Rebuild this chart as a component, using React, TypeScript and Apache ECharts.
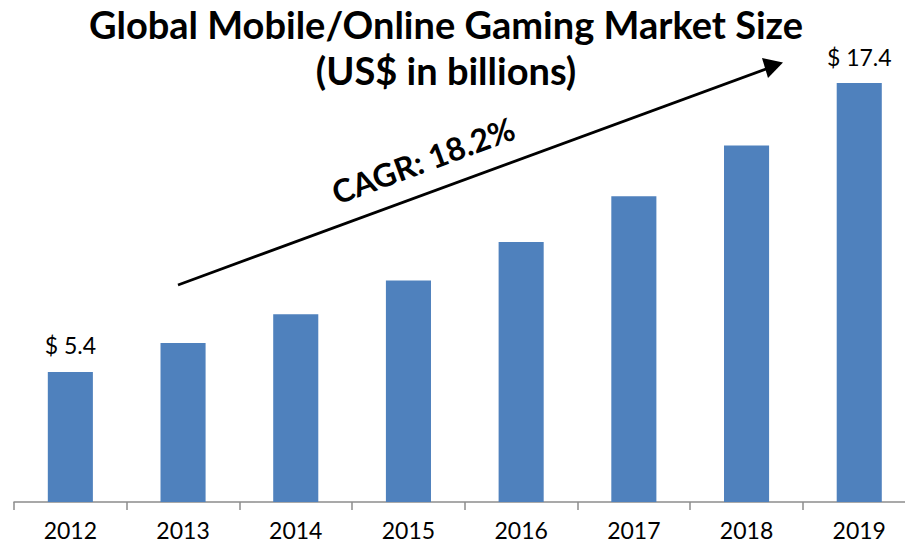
import React, { useEffect, useRef } from "react";
import * as echarts from "echarts";

const categories = ["2012", "2013", "2014", "2015", "2016", "2017", "2018", "2019"];
const values = [5.4, 6.6, 7.8, 9.2, 10.8, 12.7, 14.8, 17.4];
const labeledIndexes = [0, 7];
const titleLine1 = "Global Mobile/Online Gaming Market Size";
const titleLine2 = "(US$ in billions)";
const cagrText = "CAGR: 18.2%";

export default function App() {
  const ref = useRef<HTMLDivElement>(null);
  useEffect(() => {
    if (!ref.current) return;
    const chart = echarts.init(ref.current, null, { renderer: "svg" });
    const font = "Lato, 'Open Sans', sans-serif";
    chart.setOption({
      animation: false,
      grid: { left: 14, right: 14.4, top: 20.4, bottom: 44, containLabel: false },
      xAxis: {
        type: "category",
        data: categories,
        axisLine: { lineStyle: { color: "#8c8c8c", width: 1.5 } },
        axisTick: { show: true, length: 8, lineStyle: { color: "#8c8c8c", width: 1.5 } },
        axisLabel: { color: "#000", fontSize: 23, fontFamily: font, margin: 16 },
      },
      yAxis: {
        type: "value",
        min: 0,
        max: 20,
        show: false,
        splitLine: { show: false },
      },
      series: [
        {
          type: "bar",
          barWidth: "40%",
          itemStyle: { color: "#4F81BD" },
          data: values.map((v, i) => ({
            value: v,
            label: {
              show: labeledIndexes.includes(i),
              position: "top",
              distance: 15,
              formatter: "$ {c}",
              color: "#000",
              fontSize: 23,
              fontFamily: font,
            },
          })),
        },
      ],
      graphic: [
        {
          type: "text",
          x: 446,
          y: 24,
          style: {
            text: titleLine1,
            fill: "#000",
            font: `bold 38px ${font}`,
            textAlign: "center",
            textVerticalAlign: "middle",
          },
        },
        {
          type: "text",
          x: 446,
          y: 70,
          style: {
            text: titleLine2,
            fill: "#000",
            font: `bold 38px ${font}`,
            textAlign: "center",
            textVerticalAlign: "middle",
          },
        },
        {
          type: "line",
          shape: { x1: 178, y1: 285, x2: 770, y2: 67.5 },
          style: { stroke: "#000", lineWidth: 2.8 },
        },
        {
          type: "polygon",
          shape: { points: [[783, 62.5], [762, 58], [768, 78]] },
          style: { fill: "#000" },
        },
        {
          type: "text",
          x: 423,
          y: 160,
          rotation: (20.3 * Math.PI) / 180,
          style: {
            text: cagrText,
            fill: "#000",
            font: `bold 32px ${font}`,
            textAlign: "center",
            textVerticalAlign: "middle",
          },
        },
      ],
    });
    return () => chart.dispose();
  }, []);
  return (
    <div style={{ width: 905, height: 546, position: "absolute", left: 0, top: 0, overflow: "hidden" }}>
      <div ref={ref} style={{ width: 930, height: 546 }} />
    </div>
  );
}
